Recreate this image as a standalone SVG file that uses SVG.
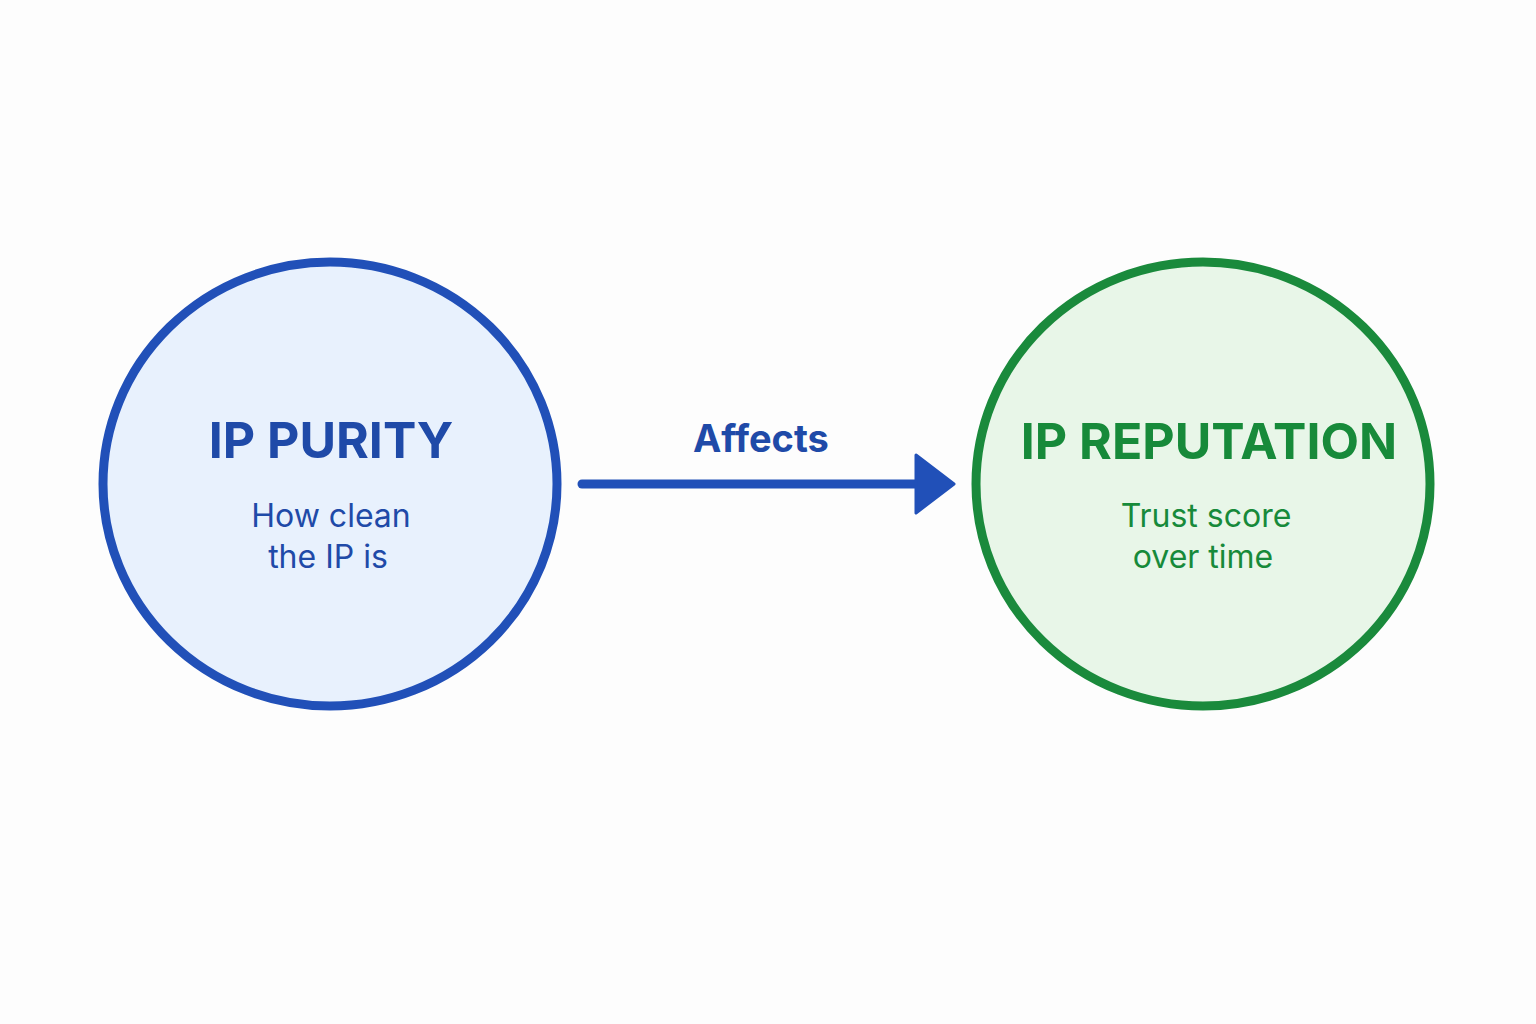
<svg xmlns="http://www.w3.org/2000/svg" width="1536" height="1024" viewBox="0 0 1536 1024">
<style>
text{font-family:Inter,"Noto Sans",sans-serif;text-anchor:middle}
.t{font-weight:700;font-size:50px}
.s{font-size:32px}
.b{fill:#1f4aa8}.g{fill:#178a3a}
</style>
<rect width="1536" height="1024" fill="#fdfdfd"/>
<g id="purity">
<ellipse cx="330" cy="484" rx="227" ry="222" fill="#e8f1fd" stroke="#2150b8" stroke-width="9"/>
<text class="t b" x="331" y="458">IP PURITY</text>
<text class="s b" x="331" y="527">How clean</text>
<text class="s b" x="328" y="568">the IP is</text>
</g>
<g id="reputation">
<ellipse cx="1203" cy="484" rx="227" ry="222" fill="#e8f6e8" stroke="#1a8a3c" stroke-width="9"/>
<text class="t g" x="1209" y="459">IP REPUTATION</text>
<text class="s g" x="1206" y="527">Trust score</text>
<text class="s g" x="1203" y="568">over time</text>
</g>
<g id="connectors">
<line x1="582" y1="484" x2="920" y2="484" stroke="#2150b8" stroke-width="9" stroke-linecap="round"/>
<polygon points="916,455 954,484 916,513" fill="#2150b8" stroke="#2150b8" stroke-width="3" stroke-linejoin="round"/>
<text x="761" y="452" style="font-weight:700;font-size:38px" class="b">Affects</text>
</g>
</svg>
